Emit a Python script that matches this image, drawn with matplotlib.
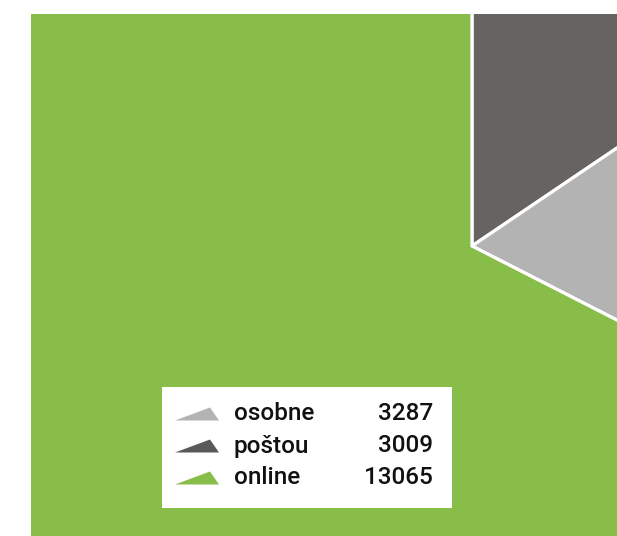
import matplotlib.pyplot as plt
from matplotlib.patches import Polygon

labels = ['osobne', 'poštou', 'online']
values = [3287, 3009, 13065]
pie_colors = ['#b3b3b3', '#676361', '#88bd4a']
marker_colors = ['#b3b3b3', '#595959', '#88bd4a']

W, H = 617, 536
fig = plt.figure(figsize=(W / 100, H / 100), dpi=100)

# big pie, cropped by the axes box (units = pixels)
left, top = 31, 14
ax = fig.add_axes([left / W, 0, 1 - left / W, (H - top) / H])
cx, cy = 472 - left, (H - top) - (246 - top)
order = [1, 0, 2]
wedges, _ = ax.pie([values[i] for i in order], colors=[pie_colors[i] for i in order],
                   startangle=90, counterclock=False, radius=700, center=(0, 0),
                   wedgeprops=dict(edgecolor='white', linewidth=2.3))
for w in wedges:
    w.set_clip_on(True)
ax.set_aspect('auto')
ax.set_xlim(-cx, W - left - cx)
ax.set_ylim(-cy, (H - top) - cy)
ax.axis('off')

# legend box
bx0, by0, bx1, by1 = 162, 387, 452, 508
lg = fig.add_axes([bx0 / W, (H - by1) / H, (bx1 - bx0) / W, (by1 - by0) / H])
lg.set_xlim(bx0, bx1)
lg.set_ylim(by1, by0)
lg.set_facecolor('white')
for s in lg.spines.values():
    s.set_visible(False)
lg.set_xticks([])
lg.set_yticks([])

for k, (lab, val) in enumerate(zip(labels, values)):
    base = 420.5 + k * 32
    tri = Polygon([(175, base), (210, base - 13), (219, base)], closed=True,
                  facecolor=marker_colors[k], edgecolor='none')
    lg.add_patch(tri)
    lg.text(234, base, lab, fontsize=17.5, fontweight='medium', family='Roboto',
            va='baseline', ha='left', color='#111111')
    lg.text(433, base, str(val), fontsize=17.5, fontweight='medium', family='Roboto',
            va='baseline', ha='right', color='#111111')

fig.savefig('out.png', dpi=100)
